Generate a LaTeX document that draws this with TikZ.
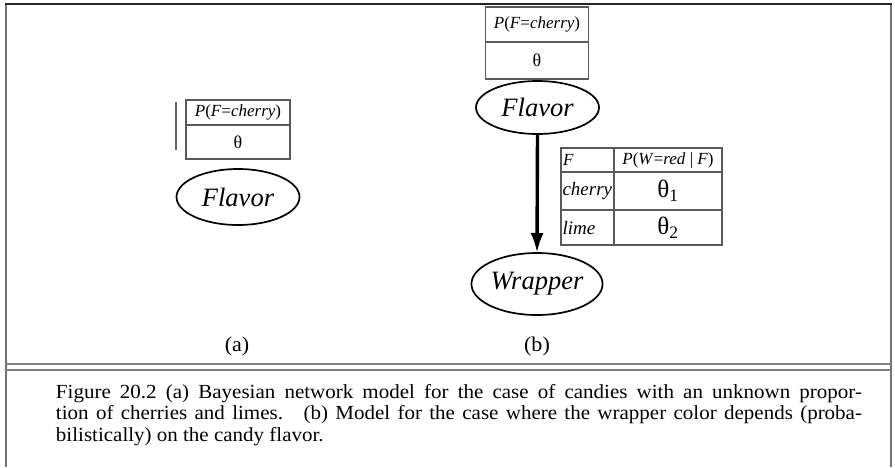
\documentclass[tikz,border=0pt]{standalone}
\usepackage{fontspec}
\setmainfont{Liberation Serif}
\newfontfamily\capfont{Liberation Serif}[FakeStretch=1.05]
\usetikzlibrary{shapes.geometric,arrows.meta}
\begin{document}
\begin{tikzpicture}[x=1pt,y=-1pt,
  every node/.style={inner sep=0pt,outer sep=0pt},
  varnode/.style={ellipse,draw=black,line width=1.7pt,font=\fontsize{26.5}{29}\selectfont\itshape},
  cell/.style={rectangle,draw=black!65,line width=1.2pt,minimum width=#1},
  smalltxt/.style={font=\fontsize{17}{19}\selectfont},
  bigtxt/.style={font=\capfont\fontsize{21}{22}\selectfont},
  framegray/.style={draw=black!55,line width=2pt},
  edge/.style={line width=3.4pt,-{Latex[length=20pt,width=13pt]}}
]
\useasboundingbox (0,0) rectangle (895,467);
% frame
\draw[framegray] (6,4) -- (6,467);
\draw[framegray] (891,4) -- (891,467);
\draw[black!85,line width=2.2pt] (5,4) -- (892,4);
\draw[draw=black!50,line width=1.4pt] (6,364) -- (891,364);
\draw[draw=black!50,line width=1.4pt] (6,370) -- (891,370);

% (a)
\draw[black!60,line width=2pt] (176,102) -- (176,150);
\node[cell=104pt,minimum height=25pt,smalltxt] (a1) at (238,112.5) {\textit{P}(\textit{F}=\textit{cherry})};
\node[cell=104pt,minimum height=34pt,font=\fontsize{18}{20}\selectfont] (a2) at (238,142) {θ};
\node[varnode,minimum width=123pt,minimum height=56pt] (fa) at (238,197) {Flavor};
\node[bigtxt] (la) at (237,346) {(a)};

% (b)
\node[cell=103pt,minimum height=35pt,smalltxt] (b1) at (537,24.5) {\textit{P}(\textit{F}=\textit{cherry})};
\node[cell=103pt,minimum height=37pt,font=\fontsize{18}{20}\selectfont] (b2) at (537,60.5) {θ};
\node[varnode,minimum width=123pt,minimum height=53pt] (fb) at (537.5,107.5) {Flavor};
\node[varnode,minimum width=121pt,minimum height=62pt] (wb) at (537,284) {Wrapper};
\draw[edge] (fb.south) -- (wb.north);

% CPT
\node[cell=53pt,minimum height=24pt,anchor=north west,smalltxt,align=left,text width=49pt,inner xsep=2pt] (c11) at (561,148) {\textit{F}};
\node[cell=108pt,minimum height=24pt,anchor=north west,smalltxt] (c12) at (614,148) {\textit{P}(\textit{W}=\textit{red} | \textit{F})};
\node[cell=53pt,minimum height=38pt,anchor=north west,font=\fontsize{19}{21}\selectfont\itshape,align=left,text width=50pt,inner xsep=1.5pt] (c21) at (561,172) {cherry};
\node[cell=108pt,minimum height=38pt,anchor=north west,font=\fontsize{25}{27}\selectfont] (c22) at (614,172) {θ\textsubscript{1}};
\node[cell=53pt,minimum height=35pt,anchor=north west,font=\fontsize{19}{21}\selectfont\itshape,align=left,text width=50pt,inner xsep=1.5pt] (c31) at (561,210) {lime};
\node[cell=108pt,minimum height=35pt,anchor=north west,font=\fontsize{25}{27}\selectfont] (c32) at (614,210) {θ\textsubscript{2}};
\node[bigtxt] (lb) at (537,346) {(b)};

% caption
\node[anchor=north west,text width=806pt,align=justify,font=\capfont\fontsize{20}{21.7}\selectfont] (cap) at (56,384)
{Figure 20.2 (a) Bayesian network model for the case of candies with an unknown propor-\linebreak tion of cherries and limes. \ (b) Model for the case where the wrapper color depends (proba-\linebreak bilistically) on the candy flavor.};
\end{tikzpicture}
\end{document}
